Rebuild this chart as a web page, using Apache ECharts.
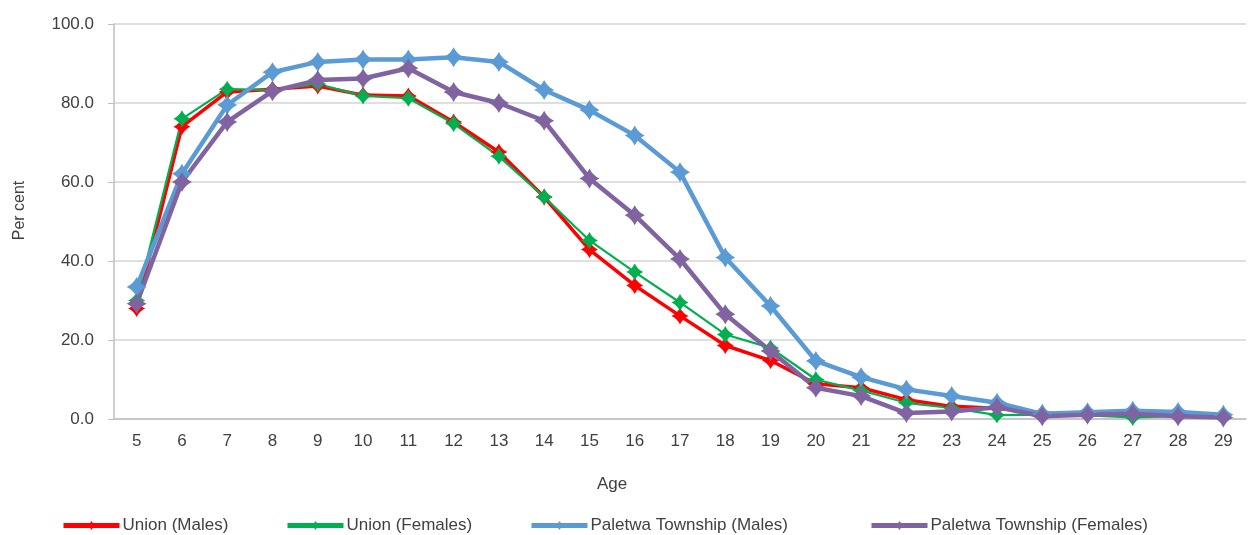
<!DOCTYPE html>
<html>
<head>
<meta charset="utf-8">
<script src="https://cdn.jsdelivr.net/npm/echarts@6/dist/echarts.min.js"></script>
<style>
  html, body { margin: 0; padding: 0; background: #ffffff; }
  #chart { width: 1250px; height: 535px; }
</style>
</head>
<body>
<div id="chart"></div>
<script>
// School attendance rate by single year of age (per cent)
const ages = ['5','6','7','8','9','10','11','12','13','14','15','16','17','18','19','20','21','22','23','24','25','26','27','28','29'];
const yTicks = [0, 20, 40, 60, 80, 100];

const unionMales     = [28.0, 74.0, 82.8, 83.5, 84.3, 82.0, 81.8, 75.2, 67.6, 56.2, 42.9, 33.8, 26.1, 18.6, 14.8, 8.9, 7.9, 4.9, 3.2, 2.7, 1.5, 1.1, 1.1, 0.9, 0.4];
const unionFemales   = [30.0, 76.0, 83.5, 83.3, 84.8, 81.8, 81.2, 74.8, 66.5, 56.2, 45.2, 37.2, 29.5, 21.4, 18.0, 10.0, 7.2, 4.1, 2.8, 1.0, 1.1, 0.9, 0.4, 0.7, 0.4];
const paletwaMales   = [33.4, 62.1, 79.5, 87.8, 90.4, 91.0, 91.0, 91.6, 90.4, 83.3, 78.2, 71.8, 62.5, 40.9, 28.6, 14.7, 10.6, 7.5, 5.8, 4.1, 1.3, 1.7, 2.1, 1.8, 1.1];
const paletwaFemales = [29.2, 60.0, 75.2, 83.0, 85.8, 86.2, 88.8, 82.8, 80.0, 75.5, 60.9, 51.6, 40.5, 26.5, 17.2, 7.9, 5.8, 1.5, 1.9, 3.0, 0.7, 1.1, 1.3, 0.7, 0.4];

const seriesNames = ['Union (Males)', 'Union (Females)', 'Paletwa Township (Males)', 'Paletwa Township (Females)'];
const seriesColors = ['#ff0000', '#00b050', '#5b9bd5', '#8064a2'];
const legendLefts = [56, 280, 524, 864];

// Diamond marker with slightly pinched sides
const DIAMOND = 'path://M0,-10Q3.2,-3.2 10,0Q3.2,3.2 0,10Q-3.2,3.2 -10,0Q-3.2,-3.2 0,-10Z';
const FONT = 'Liberation Sans, Arial, sans-serif';
const TEXT = '#404040';

function lineSeries(i, data, width, size) {
  return {
    name: seriesNames[i],
    type: 'line',
    data: data,
    symbol: DIAMOND,
    symbolSize: size,
    showAllSymbol: true,
    lineStyle: { color: seriesColors[i], width: width },
    itemStyle: { color: seriesColors[i] },
    emphasis: { disabled: true },
    animation: false
  };
}

// One legend block per series so each entry sits at its own position
const legends = seriesNames.map(function (name, i) {
  return {
    left: legendLefts[i],
    top: 512,
    itemWidth: 56,
    itemHeight: 11,
    itemGap: 0,
    selectedMode: false,
    lineStyle: { width: 5 },
    textStyle: { fontFamily: FONT, fontSize: 17, color: TEXT, padding: [0, 0, 0, -2] },
    data: [name]
  };
});

const chart = echarts.init(document.getElementById('chart'));
chart.setOption({
  backgroundColor: '#ffffff',
  grid: { left: 114, right: 4, top: 24, bottom: 116, containLabel: false },
  xAxis: {
    type: 'category',
    data: ages,
    boundaryGap: true,
    name: 'Age',
    nameLocation: 'middle',
    nameGap: 57,
    nameTextStyle: { fontFamily: FONT, fontSize: 17, color: TEXT, padding: [0, 136, 0, 0] },
    axisLine: { show: true, lineStyle: { color: '#bfbfbf', width: 1.5 } },
    axisTick: { show: false },
    axisLabel: { fontFamily: FONT, fontSize: 17, color: TEXT, margin: 14, interval: 0 },
    splitLine: { show: false }
  },
  yAxis: {
    type: 'value',
    min: yTicks[0],
    max: yTicks[yTicks.length - 1],
    interval: 20,
    name: 'Per cent',
    nameLocation: 'middle',
    nameRotate: 90,
    nameGap: 86,
    nameTextStyle: { fontFamily: FONT, fontSize: 16, color: TEXT, padding: [0, 0, 0, 22] },
    axisLine: { show: true, lineStyle: { color: '#bfbfbf', width: 1.5 } },
    axisTick: { show: true, inside: false, length: 6, lineStyle: { color: '#bfbfbf' } },
    axisLabel: {
      fontFamily: FONT, fontSize: 17, color: TEXT, margin: 20,
      formatter: function (v) { return v.toFixed(1); }
    },
    splitLine: { show: true, lineStyle: { color: '#d4d4d4', width: 1.5 } }
  },
  legend: legends,
  series: [
    lineSeries(0, unionMales, 3.5, 17),
    lineSeries(1, unionFemales, 2.2, 17),
    lineSeries(2, paletwaMales, 4.5, 20),
    lineSeries(3, paletwaFemales, 4.5, 20)
  ],
  animation: false
});
</script>
</body>
</html>
